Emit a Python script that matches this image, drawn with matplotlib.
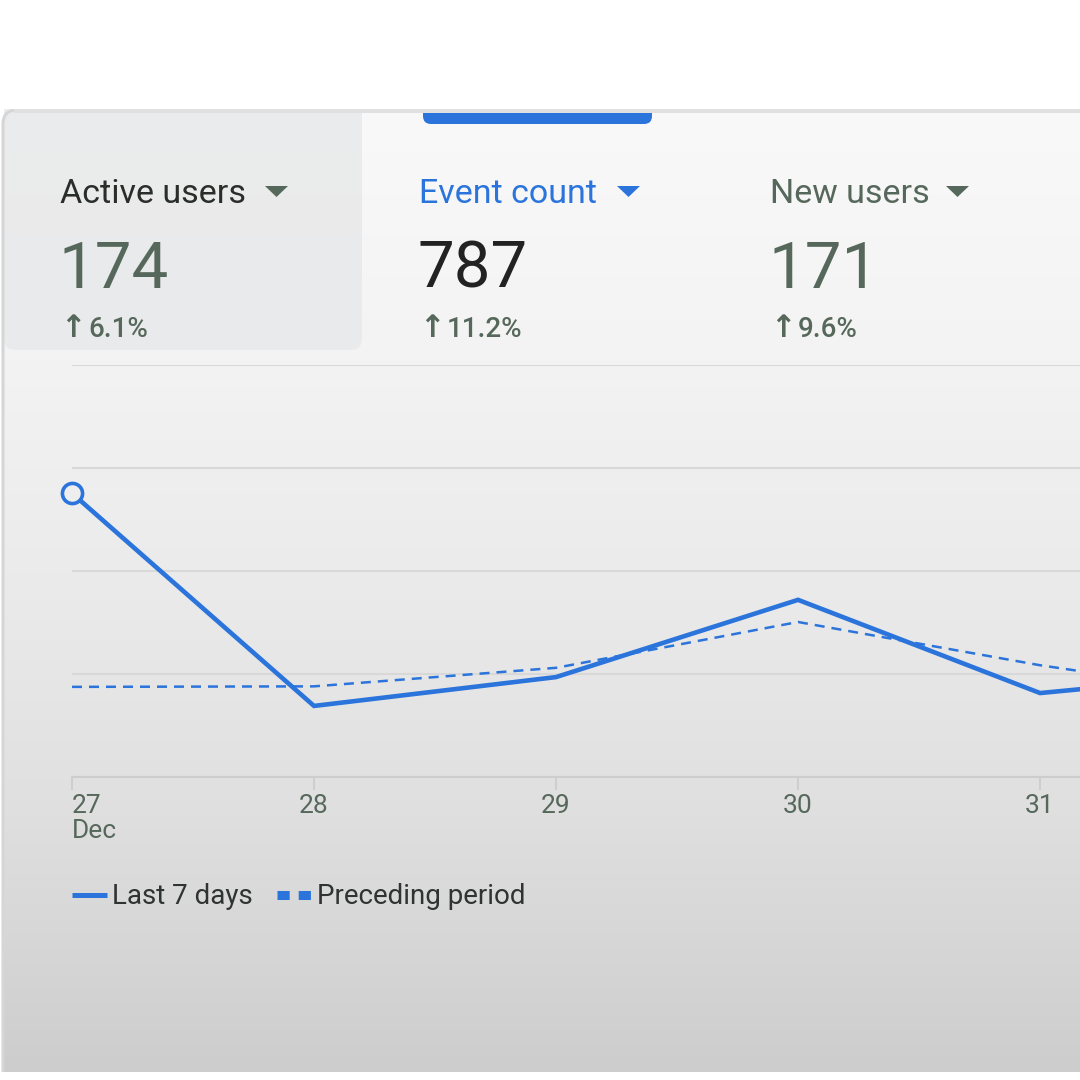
import numpy as np
import matplotlib.pyplot as plt
from matplotlib.patches import FancyBboxPatch, Polygon, Rectangle
from matplotlib.lines import Line2D

plt.rcParams['font.family'] = ['Roboto', 'DejaVu Sans']

# data (gridlines taken as 0, 20, 40, 60, 80)
days = ['27\nDec', '28', '29', '30', '31', '1']
last_7_days = [55.1, 13.8, 19.4, 34.4, 16.3, 20.8]
preceding = [17.5, 17.6, 21.2, 30.1, 21.7, 14.8]
grid_vals = [0, 20, 40, 60, 80]

metric_names = ['Active users', 'Event count', 'New users']
metric_totals = ['174', '787', '171']
metric_changes = ['6.1%', '11.2%', '9.6%']

blue = '#2b74db'
green_grey = '#56685b'

fig = plt.figure(figsize=(10.8, 10.8), dpi=100)

# background layer in pixel coordinates
bg = fig.add_axes([0, 0, 1, 1], zorder=-1)
bg.set_xlim(0, 1080)
bg.set_ylim(1080, 0)
bg.axis('off')

ys = np.linspace(0, 1080, 400)
shade = np.interp(ys, [110, 360, 600, 800, 950, 1072], [249, 243, 234, 224, 214, 205]) / 255
grad = np.dstack([shade, shade, shade]).reshape(-1, 1, 3)
panel = FancyBboxPatch((3, 110), 1200, 1000, boxstyle='round,pad=0,rounding_size=14',
                       facecolor='none', edgecolor='#d6d6d6', lw=2.2, zorder=3)
im = bg.imshow(grad, extent=[0, 1080, 1080, 0], aspect='auto', zorder=0)
bg.add_patch(panel)
im.set_clip_path(panel)

# highlighted card behind the first metric
card = FancyBboxPatch((4, 96), 358, 254, boxstyle='round,pad=0,rounding_size=12',
                      facecolor='#e8e9ea', edgecolor='none', alpha=0.85, zorder=1)
bg.add_patch(card)

# selected-tab bar
tab = FancyBboxPatch((423, 96), 229, 28, boxstyle='round,pad=0,rounding_size=8',
                     facecolor=blue, edgecolor='none', zorder=2)
bg.add_patch(tab)
bg.add_patch(Rectangle((0, 0), 1080, 109, facecolor='white', edgecolor='none', zorder=4))
bg.add_patch(Rectangle((14, 108.5), 1080, 4.5, facecolor='#e0e0e0', edgecolor='none', zorder=5))

# metric headers
xs = [60, 419, 770]
title_colors = ['#2a2e2b', blue, green_grey]
total_colors = [green_grey, '#222222', green_grey]
tri_x = [265, 617, 946]
tri_colors = [green_grey, blue, green_grey]
for i in range(3):
    bg.text(xs[i], 203, metric_names[i], fontsize=24.5, color=title_colors[i], va='baseline', zorder=6)
    bg.text(xs[i] - 2, 288, metric_totals[i], fontsize=47, color=total_colors[i], va='baseline', zorder=6)
    bg.text(xs[i], 337, '\u2191', fontsize=22, color=green_grey, va='baseline',
            fontweight='bold', family=['DejaVu Sans'], zorder=6)
    bg.text(xs[i] + 28, 337, metric_changes[i], fontsize=20, color=green_grey, va='baseline',
            fontweight='medium', zorder=6)
    bg.add_patch(Polygon([(tri_x[i], 186), (tri_x[i] + 23, 186), (tri_x[i] + 11.5, 197)],
                         closed=True, facecolor=tri_colors[i], edgecolor='none', zorder=6))

# white strip at the very bottom
bg.add_patch(Rectangle((0, 1072), 1080, 8, facecolor='white', edgecolor='none', zorder=6))

# chart
ax = fig.add_axes([72 / 1080, 1 - 777 / 1080, 1008 / 1080, 412 / 1080])
ax.set_facecolor('none')
x = np.arange(len(days))
ax.plot(x, preceding, color=blue, lw=1.8, dashes=(4, 2.8), zorder=3)
ax.plot(x, last_7_days, color=blue, lw=3.3, solid_joinstyle='miter', zorder=4)
ax.plot(x[0], last_7_days[0], 'o', ms=14.5, mfc='#eeeeef', mec=blue, mew=2.6, zorder=5, clip_on=False)

ax.set_yticks(grid_vals)
ax.yaxis.grid(True, color='#d8d8d8', lw=1.5)
ax.set_axisbelow(True)
ax.tick_params(axis='y', left=False, labelleft=False)
for s in ['top', 'right', 'left']:
    ax.spines[s].set_visible(False)
ax.spines['bottom'].set_color('#cdcdcd')
ax.spines['bottom'].set_linewidth(1.5)

ax.set_xticks(x[:5])
ax.set_xticklabels(days[:5], fontsize=19, color=green_grey, linespacing=1.05)
ax.tick_params(axis='x', length=9, width=1.3, color='#cdcdcd', pad=3)
ax.get_xticklabels()[0].set_ha('left')
ax.set_xlim(0, 4.165)
ax.set_ylim(0, 80)

handles = [Line2D([], [], color=blue, lw=3.6, solid_capstyle='butt'),
           Line2D([], [], color=blue, lw=6.5, dashes=(1.35, 1.0), dash_capstyle='butt')]
ax.legend(handles, ['Last 7 days', 'Preceding period'], ncol=2, frameon=False,
          loc='center left', bbox_to_anchor=(72 / 1080, 1 - 897 / 1080),
          bbox_transform=fig.transFigure, fontsize=20, labelcolor='#2f3331',
          handlelength=1.25, handletextpad=0.2, columnspacing=0.85, borderpad=0, borderaxespad=0)

fig.savefig('out.png', dpi=100)
